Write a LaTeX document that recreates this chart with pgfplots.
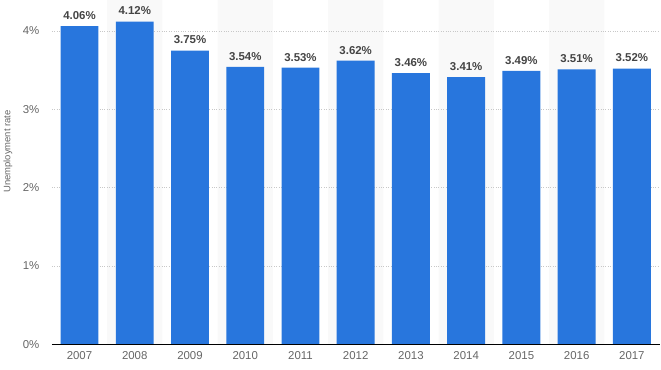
\documentclass[border=0pt]{standalone}
\usepackage{pgfplots}
\pgfplotsset{compat=1.18}
\usepackage{fontspec}
\setmainfont{Liberation Sans}
\definecolor{barblue}{HTML}{2876DD}
\definecolor{band}{HTML}{F9F9F9}
\definecolor{ticktxt}{HTML}{666666}
\definecolor{valtxt}{HTML}{444444}
\definecolor{gridc}{HTML}{C8C8C8}
\begin{document}
\begin{tikzpicture}
\begin{axis}[
  name=ax,
  set layers,
  scale only axis,
  width=609bp, height=345bp,
  xmin=-0.5, xmax=10.5,
  ymin=0, ymax=4.395,
  xtick={0,...,10},
  xticklabels={2007,2008,2009,2010,2011,2012,2013,2014,2015,2016,2017},
  ytick={0,1,2,3,4},
  yticklabel={\pgfmathprintnumber{\tick}\%},
  /pgf/number format/assume math mode=true,
  axis line style={draw=none},
  axis x line*=bottom,
  axis y line*=left,
  major tick length=0pt,
  ymajorgrids,
  grid style={gridc, dotted, line width=0.7pt},
  tick label style={font=\fontsize{11.5}{13}\selectfont, text=ticktxt},
  xticklabel style={yshift=-4bp},
  yticklabel style={xshift=-9bp},
  ylabel={Unemployment rate},
  every axis y label/.style={at={(rel axis cs:0,0.56)}, xshift=-44bp, rotate=90, anchor=center,
    font=\fontsize{9.5}{11}\selectfont, text=ticktxt},
  clip=false,
]
\addplot[ybar, bar shift=0pt, bar width=1, fill=band, draw=none, on layer=axis background]
  coordinates {(1,4.395) (3,4.395) (5,4.395) (7,4.395) (9,4.395)};
\addplot[ybar, bar shift=0pt, bar width=38bp, fill=barblue, draw=none,
  nodes near coords={\pgfmathprintnumber[fixed,fixed zerofill,precision=2]{\pgfplotspointmeta}\%},
  every node near coord/.append style={font=\bfseries\fontsize{11.5}{13}\selectfont, text=valtxt, yshift=3bp}]
  coordinates {(0,4.06) (1,4.12) (2,3.75) (3,3.54) (4,3.53) (5,3.62) (6,3.46) (7,3.41) (8,3.49) (9,3.51) (10,3.52)};
\draw[black, line width=1.2pt] (rel axis cs:0,0) -- (rel axis cs:1,0);
\end{axis}
\pgfresetboundingbox
\path ([xshift=-52bp,yshift=-25bp]ax.south west) rectangle ([xshift=1.5bp]ax.north east);
\end{tikzpicture}
\end{document}
